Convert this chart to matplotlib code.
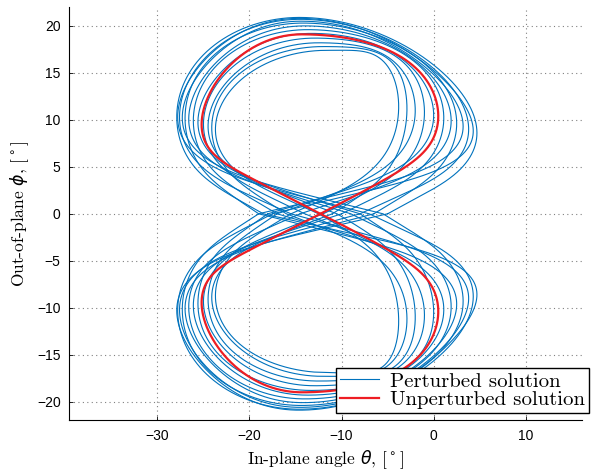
import numpy as np
import matplotlib
matplotlib.use("Agg")
import matplotlib.pyplot as plt

# values (degrees)
# unperturbed figure-eight
red_left = -25.2
red_right = 0.5
red_cross = -12.3
red_top = 19.1
red_bottom = -19.0
red_top_theta = -14.3
red_side_phi = 10.4

# perturbed solution: one entry per loop
loop_left = [-27.9, -27.8, -27.6, -27.3, -27.0, -26.6, -26.1, -25.6, -25.0, -24.5, -24.1, -23.7]
loop_right = [4.7, 4.3, 3.8, 3.2, 2.5, 1.9, 1.1, 0.0, -1.0, -2.0, -2.9, -3.8]
loop_cross_up = [-5.0, -17.5, -8.0, -19.0, -6.5, -14.5, -10.0, -18.0, -12.0, -17.0, -11.0, -15.5]
loop_cross_down = [-18.5, -7.0, -15.5, -5.5, -19.0, -9.0, -17.0, -8.0, -14.0, -10.5, -16.0, -12.5]
loop_top = [20.9, 20.8, 20.7, 20.5, 20.3, 20.0, 19.6, 19.2, 18.7, 18.2, 17.8, 17.4]
loop_bottom = [-20.9, -20.8, -20.6, -20.4, -20.1, -19.7, -19.3, -18.8, -18.3, -17.8, -17.3, -16.9]
loop_top_theta = [-14.6, -14.6, -14.5, -14.4, -14.2, -14.0, -13.7, -13.3, -12.9, -12.5, -12.0, -11.6]
loop_right_phi = [8.6, 8.8, 9.0, 9.3, 9.6, 9.9, 10.2, 10.5, 10.8, 11.0, 11.2, 11.4]

x_ticks = [-30, -20, -10, 0, 10]
y_ticks = [-20, -15, -10, -5, 0, 5, 10, 15, 20]

BLUE = '#0072BD'
RED = '#EE1D23'


def smooth(x):
    return 3 * x ** 2 - 2 * x ** 3


def base_lobe(angle, m, n=3000):
    # one lobe of the eight, normalised so that max |u| = 1 and max v = 1
    alpha0 = np.radians(angle)
    s = np.linspace(0, 1, n)
    alpha = alpha0 * np.cos(np.pi * s)
    r = np.clip(np.cos(0.5 * np.pi * alpha / alpha0), 0, None) ** m
    u = r * np.sin(alpha)
    v = r * np.cos(alpha)
    u = u / np.abs(u).max()
    return s, u, v, v[np.argmax(u)]


def lobe(left, right, c0, c1, height, top_theta, right_phi, angle, m):
    s, u, v, v_ext = base_lobe(angle, m)
    c = np.where(s < 0.5,
                 c0 + (top_theta - c0) * smooth(np.clip(2 * s, 0, 1)),
                 top_theta + (c1 - top_theta) * smooth(np.clip(2 * s - 1, 0, 1)))
    th = c + np.where(u > 0, right - c, c - left) * u
    f_r = right_phi / (v_ext * abs(height))
    g = 1 + np.where(u > 0, f_r - 1, 0) * u ** 2
    return th, height * v * g


def eight(left, right, c_up, c_down, top, bottom, top_theta, right_phi, angle, m):
    th1, ph1 = lobe(left, right, c_up, c_down, top, top_theta, right_phi, angle, m)
    th2, ph2 = lobe(left, right, c_down, c_up, bottom, top_theta, right_phi, angle, m)
    return np.concatenate([th1, th2]), np.concatenate([ph1, ph2])


fig = plt.figure(figsize=(5.95, 4.73), dpi=100)
ax = fig.add_axes([0.116, 0.111, 0.862, 0.874])

n_loops = len(loop_left)
for i in range(n_loops):
    th, ph = eight(loop_left[i], loop_right[i], loop_cross_up[i], loop_cross_down[i],
                   loop_top[i], loop_bottom[i], loop_top_theta[i], loop_right_phi[i],
                   68 - 4 * i / (n_loops - 1), 0.25)
    ax.plot(th, ph, color=BLUE, lw=0.8, label='Perturbed solution' if i == 0 else None)

th, ph = eight(red_left, red_right, red_cross, red_cross, red_top, red_bottom, red_top_theta,
               red_side_phi, 63, 0.13)
ax.plot(th, ph, color=RED, lw=1.6, label='Unperturbed solution', zorder=5)

ax.set_xlim(-39.6, 16.1)
ax.set_ylim(-22, 22)
ax.set_xticks(x_ticks)
ax.set_yticks(y_ticks)
ax.grid(True, color='0.5', linestyle=(0, (1, 3)), linewidth=0.8)
for side in ['top', 'right']:
    ax.spines[side].set_visible(False)
ax.tick_params(direction='in', length=3, width=0.6, pad=6, labelsize=10)
for lab in ax.get_xticklabels() + ax.get_yticklabels():
    lab.set_fontfamily('Liberation Sans')

plt.rcParams['mathtext.fontset'] = 'cm'
ax.set_xlabel(r'In-plane angle $\theta$, [$^\circ$]', fontfamily='cmr10', fontsize=12.5)
ax.set_ylabel(r'Out-of-plane $\phi$, [$^\circ$]', fontfamily='cmr10', fontsize=12.5)

leg = ax.legend(loc='lower right', bbox_to_anchor=(0.990, 0.126), bbox_transform=fig.transFigure,
                prop={'family': 'cmr10', 'size': 15}, fancybox=False, framealpha=1,
                edgecolor='black', borderpad=0.2, labelspacing=0.0, handlelength=1.9,
                handletextpad=0.5, borderaxespad=0)
leg.get_frame().set_linewidth(1.0)

fig.savefig('out.png', dpi=100)
